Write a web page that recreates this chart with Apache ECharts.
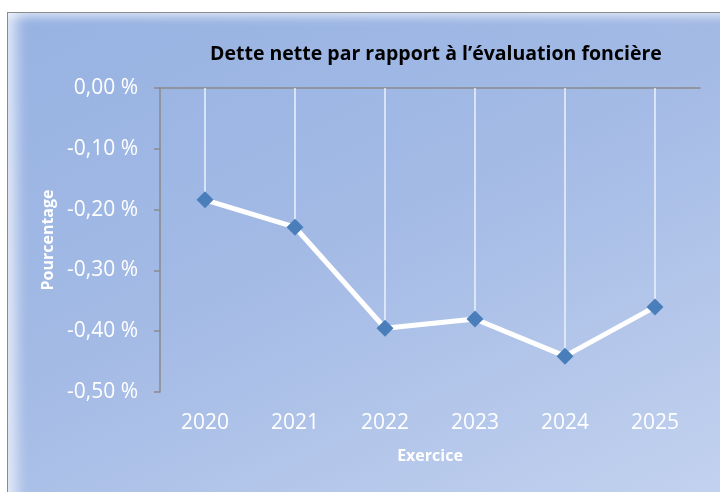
<!DOCTYPE html>
<html>
<head>
<meta charset="utf-8">
<script src="https://cdn.jsdelivr.net/npm/echarts@6/dist/echarts.min.js"></script>
<style>
  html, body { margin: 0; padding: 0; background: #fff; }
  #box {
    position: absolute; left: 7px; top: 12px; width: 720px; height: 490px;
    border: 1px solid #8c8c8c;
    background: linear-gradient(155deg, #97b2e2 0%, #a3bae5 45%, #c3d2ef 100%);
    box-shadow: inset 16px 0 14px -8px rgba(255,255,255,0.7), inset 0 12px 10px -8px rgba(255,255,255,0.6);
  }
  #chart { position: absolute; left: 0; top: 0; width: 720px; height: 492px; }
</style>
</head>
<body>
<div id="box"></div>
<div id="chart"></div>
<script>
let years = ['2020', '2021', '2022', '2023', '2024', '2025'];
let ratio = [-0.184, -0.229, -0.395, -0.380, -0.441, -0.360];

let font = '"Open Sans", sans-serif';

let option = {
    title: {
        text: 'Dette nette par rapport à l’évaluation foncière',
        left: 205,
        top: 39,
        textStyle: { fontFamily: font, fontSize: 19.5, fontWeight: 'bold', color: '#000' }
    },
    grid: { left: 160, right: 20, top: 88, bottom: 100 },
    xAxis: [
        {
            type: 'category',
            data: years,
            position: 'bottom',
            axisLine: { show: false },
            axisTick: { show: false },
            axisLabel: { color: '#fff', fontSize: 21, fontFamily: font, margin: 21 },
            name: 'Exercice',
            nameLocation: 'middle',
            nameGap: 56,
            nameTextStyle: { color: '#fff', fontSize: 16, fontWeight: 'bold', fontFamily: font }
        },
        {
            type: 'category',
            data: years,
            position: 'top',
            axisLine: { lineStyle: { color: '#8a8a8a', width: 1.5 } },
            axisTick: { inside: true, length: 6, lineStyle: { color: '#8a8a8a', width: 1.5 } },
            axisLabel: { show: false }
        }
    ],
    yAxis: {
        type: 'value',
        min: -0.5,
        max: 0,
        interval: 0.1,
        axisLine: { show: true, lineStyle: { color: '#8a8a8a', width: 1.5 } },
        axisTick: { show: true, length: 6, lineStyle: { color: '#8a8a8a', width: 1.5 } },
        splitLine: { show: false },
        axisLabel: {
            color: '#fff', fontSize: 21, fontFamily: font, margin: 22,
            formatter: function (v) {
                return (Math.abs(v) < 1e-9 ? 0 : v).toFixed(2).replace('.', ',') + ' %';
            }
        },
        name: 'Pourcentage',
        nameLocation: 'middle',
        nameRotate: 90,
        nameGap: 99,
        nameTextStyle: { color: '#fff', fontSize: 16, fontWeight: 'bold', fontFamily: font }
    },
    series: [
        {
            name: 'drop',
            type: 'bar',
            data: ratio,
            barWidth: 2,
            itemStyle: { color: 'rgba(235,242,252,0.75)' },
            silent: true,
            z: 1
        },
        {
            name: 'Dette nette',
            type: 'line',
            data: ratio,
            symbol: 'diamond',
            symbolSize: 17,
            lineStyle: { color: '#fff', width: 5 },
            itemStyle: { color: '#4a7ebb' },
            z: 3
        }
    ]
};

let myChart = echarts.init(document.getElementById('chart'));
myChart.setOption(option);
</script>
</body>
</html>
